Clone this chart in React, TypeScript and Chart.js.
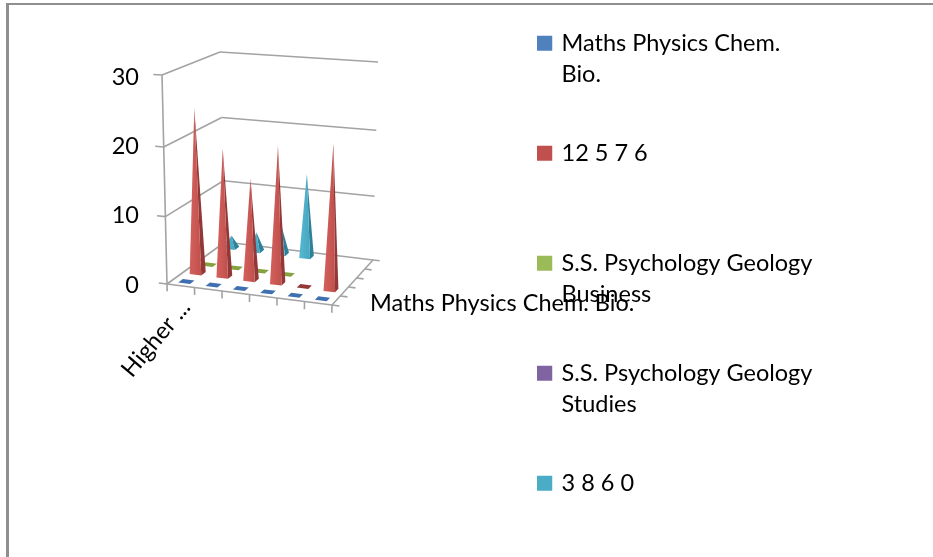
import React, { useEffect, useRef } from "react";
import { Chart, BarController, registerables } from "chart.js";

const categories = ["Higher ...", "", "", "", "", ""];
const seriesLegend = [
  ["Maths Physics Chem.", "Bio.", ""],
  ["12 5 7 6", "", ""],
  ["S.S. Psychology Geology", "Business", ""],
  ["S.S. Psychology Geology", "Studies", ""],
  ["3 8 6 0"],
];
const depthAxisLabel = "Maths Physics Chem. Bio.";
const rowMaths = [0, 0, 0, 0, 0, 0];
const rowTwelve = [24.5, 19, 15, 20, 0, 21];
const rowBusiness = [0, 0, 0, 0, null, null];
const rowStudies = [null, null, null, null, null, null];
const rowThree = [2, 3, 4.5, 13, null, null];
const seriesValues = [rowMaths, rowTwelve, rowBusiness, rowStudies, rowThree];
const legendColors = ["#4f81bd", "#c0504d", "#9bbb59", "#8064a2", "#4bacc6"];
const frontColors = [
  ["#3f6fae", "#3f6fae"],
  ["#d4605c", "#c0504d"],
  ["#84a23f", "#84a23f"],
  ["#8064a2", "#8064a2"],
  ["#58b8d2", "#45a6c0"],
];
const sideColors = ["#2f5a91", "#923937", "#6f8a34", "#5f4a7a", "#2f8199"];
const FONT = "Lato";
const FONT_SIZE = 23.5;

type P = [number, number];
const BOX = {
  fl0: [167, 284] as P, fr0: [332, 305] as P, bl0: [225, 242] as P, br0: [373, 260] as P,
  fl1: [162, 75] as P, fr1: [336, 85] as P, bl1: [220, 52] as P, br1: [378, 62] as P,
};
const mix = (a: P, b: P, t: number): P => [a[0] + (b[0] - a[0]) * t, a[1] + (b[1] - a[1]) * t];
function project(u: number, v: number, w: number): P {
  const low = mix(mix(BOX.fl0, BOX.fr0, u), mix(BOX.bl0, BOX.br0, u), v);
  const high = mix(mix(BOX.fl1, BOX.fr1, u), mix(BOX.bl1, BOX.br1, u), v);
  const eased = w > 0 ? w - 0.05 * w * (1 - w) : w;
  return mix(low, high, eased);
}
function poly(ctx: CanvasRenderingContext2D, pts: P[], fill: string | CanvasGradient) {
  ctx.beginPath();
  pts.forEach((p, i) => (i ? ctx.lineTo(p[0], p[1]) : ctx.moveTo(p[0], p[1])));
  ctx.closePath();
  ctx.fillStyle = fill;
  ctx.fill();
}

class Pyramid3D extends BarController {
  static id = "pyramid3d";
  static defaults = BarController.defaults;
  static overrides = (BarController as any).overrides;
  draw() {
    const chart = (this as any).chart;
    const ctx = chart.ctx as CanvasRenderingContext2D;
    const meta = (this as any).getMeta();
    const x = chart.scales.x;
    const y = chart.scales.y;
    const rows = chart.data.datasets.length;
    const row = (this as any).index;
    const v = (row + 0.5) / rows;
    const hu = 0.036;
    const hv = 0.04;
    ctx.save();
    meta.data.forEach((el: any, i: number) => {
      const value = (this as any).getParsed(i).y;
      if (value === null || value === undefined || isNaN(value)) return;
      const u = (el.x - x.left) / x.width;
      const w = (y.bottom - el.y) / y.height;
      const a = project(u - hu, v - hv, 0);
      const b = project(u + hu, v - hv, 0);
      const c = project(u + hu, v + hv, 0);
      const d = project(u - hu, v + hv, 0);
      if (w <= 0) {
        poly(ctx, [a, b, c, d], row === 1 ? sideColors[row] : frontColors[row][1]);
        return;
      }
      const apex = project(u, v, w);
      poly(ctx, [b, c, apex], sideColors[row]);
      const g = ctx.createLinearGradient(a[0], 0, b[0], 0);
      g.addColorStop(0, frontColors[row][0]);
      g.addColorStop(1, frontColors[row][1]);
      poly(ctx, [a, b, apex], g);
    });
    ctx.restore();
  }
}

const frame3D = {
  id: "frame3D",
  afterLayout(chart: any) {
    const lg = chart.legend;
    lg.left = 522.5;
    lg.width = 340;
    lg.right = lg.left + lg.width;
    lg.top = 14.5;
    lg.height = 540;
    lg.bottom = lg.top + lg.height;
  },
  beforeDatasetsDraw(chart: any) {
    const ctx = chart.ctx as CanvasRenderingContext2D;
    const x = chart.scales.x;
    const y = chart.scales.y;
    const rows = chart.data.datasets.length;
    const line = (a: P, b: P) => {
      ctx.beginPath();
      ctx.moveTo(a[0], a[1]);
      ctx.lineTo(b[0], b[1]);
      ctx.stroke();
    };
    ctx.save();
    ctx.strokeStyle = "#a3a3a3";
    ctx.lineWidth = 1.6;
    y.ticks.forEach((t: any) => {
      const w = (y.bottom - y.getPixelForValue(t.value)) / y.height;
      line(project(-0.05, 0, w), project(0, 0, w));
      line(project(0, 0, w), project(0, 1, w));
      line(project(0, 1, w), project(1, 1, w));
    });
    line(project(0, 0, 0), project(0, 0, 1));
    line(project(0, 0, 0), project(1, 0, 0));
    line(project(1, 0, 0), project(1, 1, 0));
    const n = x.ticks.length;
    for (let i = 0; i <= n; i++) line(project(i / n, 0, 0), project(i / n, 0, -0.035));
    for (let r = 0; r <= rows; r++) line(project(1, r / rows, 0), project(1.045, r / rows, 0));
    ctx.restore();
  },
  afterDraw(chart: any) {
    const ctx = chart.ctx as CanvasRenderingContext2D;
    ctx.save();
    ctx.font = `${FONT_SIZE}px ${FONT}`;
    ctx.fillStyle = "#000";
    ctx.textBaseline = "middle";
    ctx.fillText(depthAxisLabel, 370, 303);
    ctx.restore();
  },
};

Chart.register(...registerables, Pyramid3D);

export default function App() {
  const ref = useRef<HTMLCanvasElement>(null);
  useEffect(() => {
    const chart = new Chart(ref.current as HTMLCanvasElement, {
      type: "pyramid3d" as any,
      data: {
        labels: categories,
        datasets: seriesValues.map((data, i) => ({
          label: seriesLegend[i].join(" ").trim(),
          data,
          backgroundColor: legendColors[i],
          grouped: false,
          clip: false,
        })) as any,
      },
      plugins: [frame3D],
      options: {
        responsive: false,
        animation: false,
        layout: { padding: { top: 17, right: 236, bottom: 0, left: 0 } },
        plugins: {
          tooltip: { enabled: false },
          title: {
            display: true,
            text: " ",
            fullSize: false,
            padding: { top: 0, bottom: 46 },
          },
          legend: {
            position: "right",
            align: "start",
            labels: {
              boxWidth: 10.25,
              boxHeight: 10,
              padding: 17,
              color: "#000",
              font: { family: FONT, size: FONT_SIZE, lineHeight: "31px" },
              generateLabels: (c: any) =>
                c.data.datasets.map((d: any, i: number) => ({
                  text: seriesLegend[i],
                  fillStyle: d.backgroundColor,
                  strokeStyle: d.backgroundColor,
                  lineWidth: 5,
                  datasetIndex: i,
                })),
            },
          },
        },
        scales: {
          x: {
            type: "category",
            offset: true,
            grid: { display: false },
            border: { display: false },
            afterFit: (s: any) => {
              s.height = 272;
            },
            ticks: {
              autoSkip: false,
              minRotation: 50,
              maxRotation: 50,
              padding: 1,
              color: "#000",
              font: { family: FONT, size: FONT_SIZE },
            },
          },
          y: {
            type: "linear",
            min: 0,
            max: 30,
            grid: { display: false },
            border: { display: false },
            afterFit: (s: any) => {
              s.width = 155;
            },
            ticks: {
              stepSize: 10,
              padding: 8,
              color: "#000",
              font: { family: FONT, size: FONT_SIZE },
            },
          },
        },
      } as any,
    });
    return () => chart.destroy();
  }, []);
  return (
    <div style={{ position: "fixed", left: 0, top: 0, width: 933, height: 557, overflow: "hidden", background: "#fff" }}>
      <canvas ref={ref} width={933} height={557} style={{ position: "absolute", left: 0, top: 0 }} />
      <div style={{ position: "absolute", left: 6, top: 3, right: 0, height: 2, background: "#8f8f8f" }} />
      <div style={{ position: "absolute", left: 6, top: 3, bottom: 0, width: 3, background: "#8f8f8f" }} />
    </div>
  );
}
